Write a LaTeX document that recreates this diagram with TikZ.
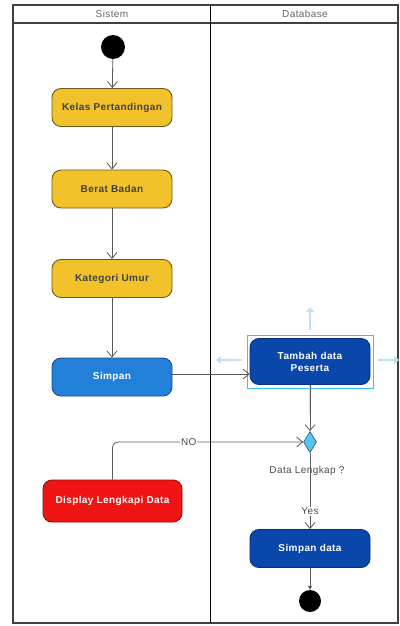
\documentclass[tikz,border=0pt]{standalone}
\usepackage{fontspec}
\setmainfont{Liberation Sans}
\usetikzlibrary{arrows.meta,shapes.geometric}
\definecolor{lanecol}{HTML}{404040}
\definecolor{flowcol}{HTML}{5A5A5A}
\definecolor{goldfill}{HTML}{F2C22B}
\definecolor{golddraw}{HTML}{6B5A20}
\definecolor{skyfill}{HTML}{2380D8}
\definecolor{skydraw}{HTML}{1A4F8A}
\definecolor{navyfill}{HTML}{0A47AA}
\definecolor{navydraw}{HTML}{06307A}
\definecolor{redfill}{HTML}{F01414}
\definecolor{reddraw}{HTML}{A00A0A}
\definecolor{gemfill}{HTML}{5CC3EC}
\definecolor{hintcol}{HTML}{BFE3F2}
\definecolor{selcol}{HTML}{38C6DC}
\newfontfamily\widefont[LetterSpace=4]{Liberation Sans}
\tikzset{
  x=1pt, y=-1pt,
  act/.style={rounded corners=9pt, minimum width=120pt, minimum height=38pt,
    line width=0.9pt, font=\widefont\fontsize{10}{12}\selectfont\bfseries, align=center, inner sep=2pt},
  yellowact/.style={act, fill=goldfill, draw=golddraw, text=black!75},
  skyact/.style={act, fill=skyfill, draw=skydraw, text=white},
  navyact/.style={act, fill=navyfill, draw=navydraw, text=white},
  redact/.style={act, fill=redfill, draw=reddraw, text=white},
  flow/.style={draw=flowcol, line width=0.8pt, -{Straight Barb[length=6pt,width=10pt]}},
  hint/.style={draw=hintcol, line width=2.5pt, -{Triangle[length=5pt,width=8pt]}},
  dot/.style={circle, fill=black, inner sep=0pt},
  lanetitle/.style={font=\widefont\fontsize{10}{12}\selectfont, text=black!60},
  tag/.style={font=\widefont\fontsize{10}{12}\selectfont, text=black!70}
}
\begin{document}
\begin{tikzpicture}
\useasboundingbox (0,0) rectangle (399,626);
% swimlanes
\draw[lanecol, line width=1.3pt] (13,5) rectangle (398,623);
\draw[lanecol, line width=1.3pt] (13,23) -- (398,23);
\draw[black, line width=1pt] (210,5) -- (210,623);
\node[lanetitle] (lanea) at (112,14) {Sistem};
\node[lanetitle] (laneb) at (305,14) {Database};

% Sistem lane
\node[dot, minimum size=24pt] (start) at (113,47) {};
\node[yellowact] (kelas) at (112,107.5) {Kelas Pertandingan};
\node[yellowact] (berat) at (112,189) {Berat Badan};
\node[yellowact] (umur) at (112,278.5) {Kategori Umur};
\node[skyact] (simpan) at (112,377) {Simpan};
\node[redact, minimum width=139pt, minimum height=42pt] (display) at (112.5,501) {Display Lengkapi Data};

% Database lane
\node[navyact, minimum height=46pt] (tambah) at (310,361.5) {Tambah data\\Peserta};
\draw[selcol, line width=0.9pt] (247,335) rectangle (373,388);
\node[diamond, fill=gemfill, draw=skydraw, line width=0.6pt, minimum width=13pt, minimum height=21pt, inner sep=0pt, aspect=0.6] (cek) at (310,442) {};
\node[tag, anchor=north] (cektag) at (307,463) {Data Lengkap ?};
\node[navyact] (simpandata) at (310,548.5) {Simpan data};
\node[dot, minimum size=22pt] (finish) at (310,601) {};

% hover handles
\coordinate (hu1) at (310,330); \coordinate (hu2) at (310,307);
\coordinate (hl1) at (242,360); \coordinate (hl2) at (216,360);
\coordinate (hr1) at (378,360); \coordinate (hr2) at (399,360);
\draw[hint] (hu1) -- (hu2);
\draw[hint] (hl1) -- (hl2);
\draw[hint] (hr1) -- (hr2);

% control flow
\draw[flow] (start) -- (kelas);
\draw[flow] (kelas) -- (berat);
\draw[flow] (berat) -- (umur);
\draw[flow] (umur) -- (simpan);
\draw[flow] (simpan.east |- 0,374) -- (tambah.west |- 0,374);
\draw[draw=hintcol, line width=2.5pt] (tambah.south) -- ++(0,30);
\draw[flow] (tambah.south) -- (cek.north);
\draw[flow, rounded corners=6pt] (display.north) -- (display.north |- cek.west) -- node[pos=0.4, fill=white, inner sep=1pt, tag] (no) {NO} (cek.west);
\draw[flow] (cek.south) -- node[pos=0.77, fill=white, inner sep=1pt, tag] (yes) {Yes} (simpandata.north);
\draw[draw=flowcol, line width=0.8pt, -{Triangle[length=4pt,width=4pt]}] (simpandata.south) -- (finish.north);
\end{tikzpicture}
\end{document}
